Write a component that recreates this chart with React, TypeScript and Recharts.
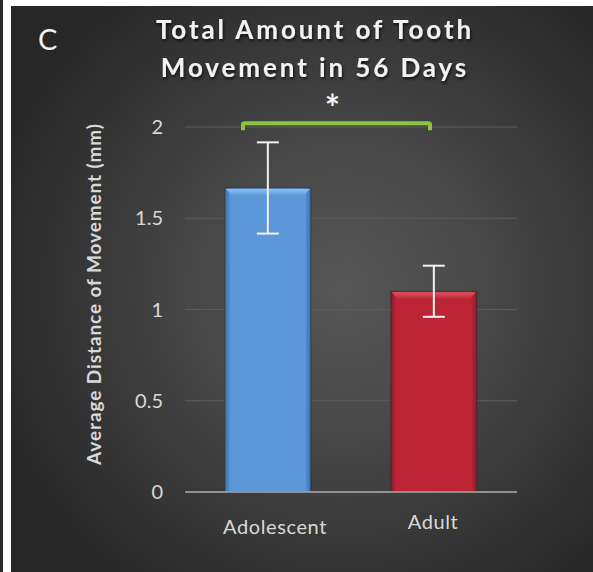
import React from "react";
import {
  BarChart,
  Bar,
  XAxis,
  YAxis,
  CartesianGrid,
  ErrorBar,
  ReferenceLine,
} from "recharts";

const groups = ["Adolescent", "Adult"];
const meanMovement = [1.666, 1.1];
const errorMovement = [0.25, 0.14];
const yTicks = [0, 0.5, 1, 1.5, 2];
const significanceLevel = [2.02];
const significanceMark = ["*"];

const barColors = ["#5b97d9", "#bd2536"];
const barEdge = ["#3b6eaa", "#8a1a27"];
const barTop = ["#8fc0f2", "#e0525f"];

const data = groups.map((g, i) => ({
  group: g,
  value: meanMovement[i],
  err: errorMovement[i],
  idx: i,
}));

const FONT = "Lato, 'Open Sans', sans-serif";

const BevelBar = (props: any) => {
  const { x, y, width, height, index } = props;
  const i = index ?? 0;
  const id = `bg${i}`;
  const tid = `tg${i}`;
  return (
    <g>
      <defs>
        <linearGradient id={id} x1="0" y1="0" x2="1" y2="0">
          <stop offset="0" stopColor={barEdge[i]} />
          <stop offset="0.07" stopColor={barColors[i]} />
          <stop offset="0.93" stopColor={barColors[i]} />
          <stop offset="1" stopColor={barEdge[i]} />
        </linearGradient>
        <linearGradient id={tid} x1="0" y1="0" x2="0" y2="1">
          <stop offset="0" stopColor={barTop[i]} />
          <stop offset="1" stopColor={barColors[i]} />
        </linearGradient>
      </defs>
      <rect x={x} y={y} width={width} height={height} fill={`url(#${id})`} stroke="#2a2a2a" strokeOpacity={0.6} strokeWidth={1} />
      <polygon
        points={`${x + 1},${y + 1} ${x + width - 1},${y + 1} ${x + width - 7},${y + 8} ${x + 7},${y + 8}`}
        fill={`url(#${tid})`}
      />
    </g>
  );
};

const XTick = (props: any) => {
  const { x, y, payload, index } = props;
  const dx = index === 0 ? 7 : -1;
  const dy = index === 0 ? 34 : 29;
  return (
    <text x={x + dx} y={y + dy} textAnchor="middle" fill="#d9d9d9" fontSize={20} fontFamily={FONT} letterSpacing={0.6}>
      {payload.value}
    </text>
  );
};

const Bracket = (props: any) => {
  const { x1, y1, x2 } = props;
  const l = x1 - 25;
  const r = x2 - 4;
  return (
    <g>
      <path
        d={`M ${l} ${y1 + 7} L ${l} ${y1 + 1} Q ${l} ${y1} ${l + 2} ${y1} L ${r - 2} ${y1} Q ${r} ${y1} ${r} ${y1 + 1} L ${r} ${y1 + 7}`}
        stroke="#8cc63f"
        strokeWidth={4}
        fill="none"
      />
      <text x={(l + r) / 2 - 4} y={y1 - 2} textAnchor="middle" fill="#f2f2f2" fontSize={36} fontWeight={700} fontFamily={FONT}>
        {significanceMark[0]}
      </text>
    </g>
  );
};

export default function App() {
  return (
    <div style={{ position: "absolute", left: 0, top: 0, width: 593, height: 572, background: "#ffffff", overflow: "hidden" }}>
      <div style={{ position: "absolute", left: 0, top: 0, width: 3, height: 572, background: "#2b2b2b" }} />
      <div
        style={{
          position: "absolute",
          left: 11,
          top: 6,
          right: 0,
          bottom: 0,
          background: "radial-gradient(circle at 57% 50%, #565656 0%, #4a4a4a 30%, #3a3a3a 55%, #272727 85%)",
        }}
      />
      <div style={{ position: "absolute", left: 0, top: 0 }}>
        <BarChart width={593} height={572} data={data} margin={{ top: 127, right: 76, bottom: 0, left: 0 }} barCategoryGap="24%">
          <CartesianGrid horizontal vertical={false} stroke="#5c5c5c" strokeWidth={1.2} />
          <XAxis
            dataKey="group"
            height={80}
            axisLine={{ stroke: "#a8a8a8", strokeWidth: 1.6 }}
            tickLine={false}
            tick={<XTick />}
            interval={0}
          />
          <YAxis
            width={185}
            domain={[0, 2]}
            ticks={yTicks}
            axisLine={false}
            tickLine={false}
            tickSize={0}
            tickMargin={22}
            tick={{ fill: "#d9d9d9", fontSize: 20, fontFamily: FONT }}
          />
          <Bar dataKey="value" shape={<BevelBar />} isAnimationActive={false}>
            <ErrorBar dataKey="err" width={11} stroke="#f2f2f2" strokeWidth={2} isAnimationActive={false} />
          </Bar>
          <ReferenceLine
            segment={[
              { x: groups[0], y: significanceLevel[0] },
              { x: groups[1], y: significanceLevel[0] },
            ]}
            ifOverflow="visible"
            shape={<Bracket />}
          />
        </BarChart>
      </div>
      <svg width={593} height={572} style={{ position: "absolute", left: 0, top: 0, pointerEvents: "none" }}>
        <defs>
          <filter id="ts" x="-10%" y="-30%" width="120%" height="160%">
            <feDropShadow dx="1" dy="2" stdDeviation="1.5" floodColor="#000" floodOpacity="0.7" />
          </filter>
        </defs>
        <text x={38} y={50} fill="#f2f2f2" fontSize={29} fontFamily={FONT}>C</text>
        <g filter="url(#ts)" fill="#f2f2f2" fontSize={26} fontWeight={700} fontFamily={FONT} letterSpacing={2.9} textAnchor="middle">
          <text x={315} y={39}>Total Amount of Tooth</text>
          <text x={315} y={77}>Movement in 56 Days</text>
        </g>
        <text
          transform="translate(101 294) rotate(-90)"
          textAnchor="middle"
          fill="#d9d9d9"
          fontSize={19}
          fontWeight={700}
          fontFamily={FONT}
          letterSpacing={0.9}
        >
          Average Distance of Movement (mm)
        </text>
      </svg>
    </div>
  );
}
